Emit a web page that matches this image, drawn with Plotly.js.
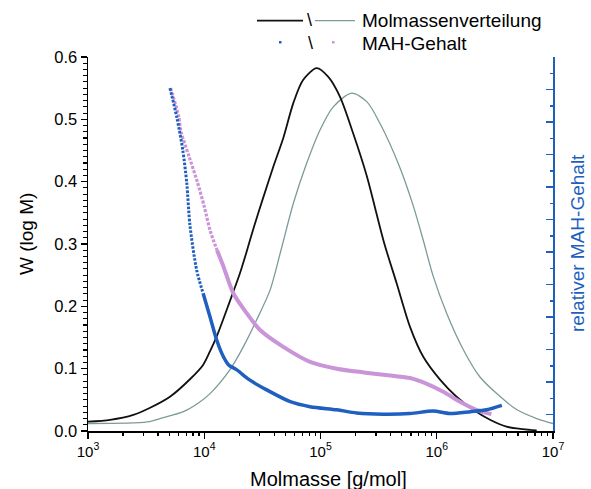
<!DOCTYPE html>
<html>
<head>
<meta charset="utf-8">
<script src="https://cdn.plot.ly/plotly-3.0.1.min.js"></script>
<style>html,body{margin:0;padding:0;background:#fff;}#chart{width:591px;height:489px;}</style>
</head>
<body>
<div id="chart"></div>
<script>
// Molmassenverteilung, Probe 1 (schwarz): log10(M) and W(log M)
const logM_mwd1 = [3.00,3.19,3.39,3.53,3.705,3.877,3.99,4.05,4.11,4.22,4.307,4.365,4.42,4.51,4.594,4.68,4.766,4.85,4.967,5.067,5.168,5.28,5.40,5.48,5.55,5.655,5.77,5.884,6.03,6.17,6.315,6.458,6.60,6.74,6.86];
const w_mwd1    = [0.015,0.018,0.026,0.037,0.055,0.083,0.106,0.128,0.153,0.208,0.253,0.288,0.323,0.376,0.424,0.470,0.526,0.563,0.582,0.568,0.536,0.478,0.408,0.350,0.300,0.237,0.167,0.119,0.082,0.055,0.034,0.018,0.007,0.003,0.001];

// Molmassenverteilung, Probe 2 (grau)
const logM_mwd2 = [3.00,3.39,3.53,3.62,3.82,3.95,4.05,4.22,4.336,4.45,4.566,4.66,4.766,4.88,4.996,5.11,5.268,5.40,5.51,5.68,5.80,5.884,5.97,6.085,6.23,6.37,6.516,6.69,6.86,7.00];
const w_mwd2    = [0.012,0.013,0.015,0.020,0.031,0.045,0.060,0.098,0.135,0.178,0.226,0.290,0.365,0.429,0.483,0.520,0.542,0.528,0.494,0.424,0.360,0.306,0.248,0.189,0.130,0.087,0.060,0.034,0.020,0.012];

// MAH-Gehalt, Probe 1 (blau)
const logM_mah1 = [3.705,3.763,3.815,3.85,3.877,3.935,3.99,4.05,4.107,4.165,4.21,4.28,4.39,4.537,4.74,4.91,5.14,5.31,5.54,5.77,5.97,6.11,6.29,6.43,6.56];
const mah1      = [0.550,0.504,0.451,0.397,0.330,0.258,0.221,0.183,0.146,0.119,0.106,0.098,0.082,0.066,0.047,0.039,0.034,0.029,0.027,0.028,0.032,0.028,0.031,0.034,0.041];
const mah1_dotted_until = 6;

// MAH-Gehalt, Probe 2 (violett)
const logM_mah2 = [3.71,3.78,3.80,3.87,3.94,4.00,4.05,4.11,4.165,4.25,4.365,4.48,4.68,4.91,5.14,5.37,5.60,5.77,5.91,6.056,6.20,6.34,6.47];
const mah2      = [0.550,0.505,0.480,0.440,0.400,0.360,0.322,0.290,0.264,0.221,0.189,0.162,0.135,0.111,0.100,0.094,0.089,0.085,0.076,0.063,0.047,0.034,0.027];
const mah2_dotted_until = 7;

// axis ticks
const xDecades = [3,4,5,6,7];
const xTickText = ['10<sup>3</sup>','10<sup>4</sup>','10<sup>5</sup>','10<sup>6</sup>','10<sup>7</sup>'];

const toM = a => a.map(v => Math.pow(10, v));
const BLUE = '#1e5fbf', PINK = '#c995d8', GRAY = '#7d9a9a', BLACK = '#111111';
const FONT = '"Liberation Sans", Arial, sans-serif';

const minorVals = [];
for (let d = 3; d < 7; d++) for (let k = 2; k <= 9; k++) minorVals.push(k * Math.pow(10, d));

const sp = {shape: 'spline', smoothing: 0.8};
const traces = [
  {x: toM(logM_mwd2), y: w_mwd2, mode: 'lines', line: Object.assign({color: GRAY, width: 1.3}, sp), xaxis: 'x', yaxis: 'y'},
  {x: toM(logM_mwd1), y: w_mwd1, mode: 'lines', line: Object.assign({color: BLACK, width: 1.8}, sp), xaxis: 'x', yaxis: 'y'},
  {x: toM(logM_mah2.slice(0, mah2_dotted_until + 1)), y: mah2.slice(0, mah2_dotted_until + 1), mode: 'lines', line: Object.assign({color: PINK, width: 3.2, dash: '3px,1.5px'}, sp), yaxis: 'y2'},
  {x: toM(logM_mah2.slice(mah2_dotted_until)), y: mah2.slice(mah2_dotted_until), mode: 'lines', line: Object.assign({color: PINK, width: 4}, sp), yaxis: 'y2'},
  {x: toM(logM_mah1.slice(0, mah1_dotted_until + 1)), y: mah1.slice(0, mah1_dotted_until + 1), mode: 'lines', line: Object.assign({color: BLUE, width: 3, dash: '2.5px,1.5px'}, sp), yaxis: 'y2'},
  {x: toM(logM_mah1.slice(mah1_dotted_until)), y: mah1.slice(mah1_dotted_until), mode: 'lines', line: Object.assign({color: BLUE, width: 3.5}, sp), yaxis: 'y2'}
];

const px = p => (p - 88) / 465;
const py = p => (431 - p) / 374;

const layout = {
  width: 591, height: 489,
  margin: {l: 88, r: 38, t: 57, b: 58},
  paper_bgcolor: '#fff', plot_bgcolor: '#fff',
  showlegend: false,
  font: {family: FONT, color: '#000', size: 16},
  xaxis: {
    type: 'log', range: [3, 7],
    tickvals: xDecades.map(d => Math.pow(10, d)), ticktext: xTickText,
    ticks: 'outside', ticklen: 6, tickwidth: 1.3, tickcolor: '#000',
    minor: {tickvals: minorVals, ticks: 'outside', ticklen: 3.5, tickwidth: 1.2, tickcolor: '#000'},
    showline: true, linecolor: '#000', linewidth: 1.5,
    showgrid: false, zeroline: false,
    tickfont: {size: 15, family: FONT}
  },
  yaxis: {
    range: [0, 0.6], dtick: 0.1, tick0: 0, tickformat: '.1f',
    ticks: 'outside', ticklen: 6, tickwidth: 1.3, tickcolor: '#000',
    minor: {dtick: 0.01, tick0: 0, ticks: 'outside', ticklen: 3.5, tickwidth: 1.1, tickcolor: '#000'},
    showline: true, linecolor: '#000', linewidth: 1.5,
    showgrid: false, zeroline: false,
    tickfont: {size: 16.5, family: FONT}
  },
  yaxis2: {
    overlaying: 'y', side: 'right', range: [0, 0.6],
    tick0: 0.6, dtick: 1.2 / 23,
    ticks: 'inside', ticklen: 7, tickwidth: 1.5, tickcolor: BLUE,
    minor: {tick0: 0.6, dtick: 0.6 / 23, ticks: 'inside', ticklen: 3.5, tickwidth: 1.5, tickcolor: BLUE},
    showticklabels: false,
    showline: true, linecolor: BLUE, linewidth: 1.8,
    showgrid: false, zeroline: false
  },
  shapes: [
    {type: 'line', xref: 'paper', yref: 'paper', x0: px(257), x1: px(303), y0: py(20.7), y1: py(20.7), line: {color: BLACK, width: 1.8}},
    {type: 'line', xref: 'paper', yref: 'paper', x0: px(315), x1: px(355), y0: py(20.7), y1: py(20.7), line: {color: GRAY, width: 1.3}},
    {type: 'rect', xref: 'paper', yref: 'paper', x0: px(279), x1: px(281.5), y0: py(43.5), y1: py(41), fillcolor: BLUE, line: {width: 0}},
    {type: 'rect', xref: 'paper', yref: 'paper', x0: px(332), x1: px(334.5), y0: py(43.5), y1: py(41), fillcolor: PINK, line: {width: 0}}
  ],
  annotations: [
    {xref: 'paper', yref: 'paper', x: px(309), y: py(20), text: '\\', showarrow: false, xanchor: 'center', yanchor: 'middle', font: {size: 18, family: FONT, color: '#000'}},
    {xref: 'paper', yref: 'paper', x: px(310), y: py(43), text: '\\', showarrow: false, xanchor: 'center', yanchor: 'middle', font: {size: 18, family: FONT, color: '#000'}},
    {xref: 'paper', yref: 'paper', x: px(360), y: py(20), text: 'Molmassenverteilung', showarrow: false, xanchor: 'left', yanchor: 'middle', font: {size: 19, family: FONT, color: '#000'}},
    {xref: 'paper', yref: 'paper', x: px(360), y: py(43), text: 'MAH-Gehalt', showarrow: false, xanchor: 'left', yanchor: 'middle', font: {size: 19, family: FONT, color: '#000'}},
    {xref: 'paper', yref: 'paper', x: px(26), y: py(234), text: 'W (log M)', textangle: -90, showarrow: false, xanchor: 'center', yanchor: 'middle', font: {size: 19, family: FONT, color: '#000'}},
    {xref: 'paper', yref: 'paper', x: px(328), y: py(479), text: 'Molmasse [g/mol]', showarrow: false, xanchor: 'center', yanchor: 'middle', font: {size: 20, family: FONT, color: '#000'}},
    {xref: 'paper', yref: 'paper', x: px(577), y: py(243), text: 'relativer MAH-Gehalt', textangle: -90, showarrow: false, xanchor: 'center', yanchor: 'middle', font: {size: 19, family: FONT, color: BLUE}}
  ]
};

Plotly.newPlot('chart', traces, layout, {displayModeBar: false, staticPlot: true});
</script>
</body>
</html>
